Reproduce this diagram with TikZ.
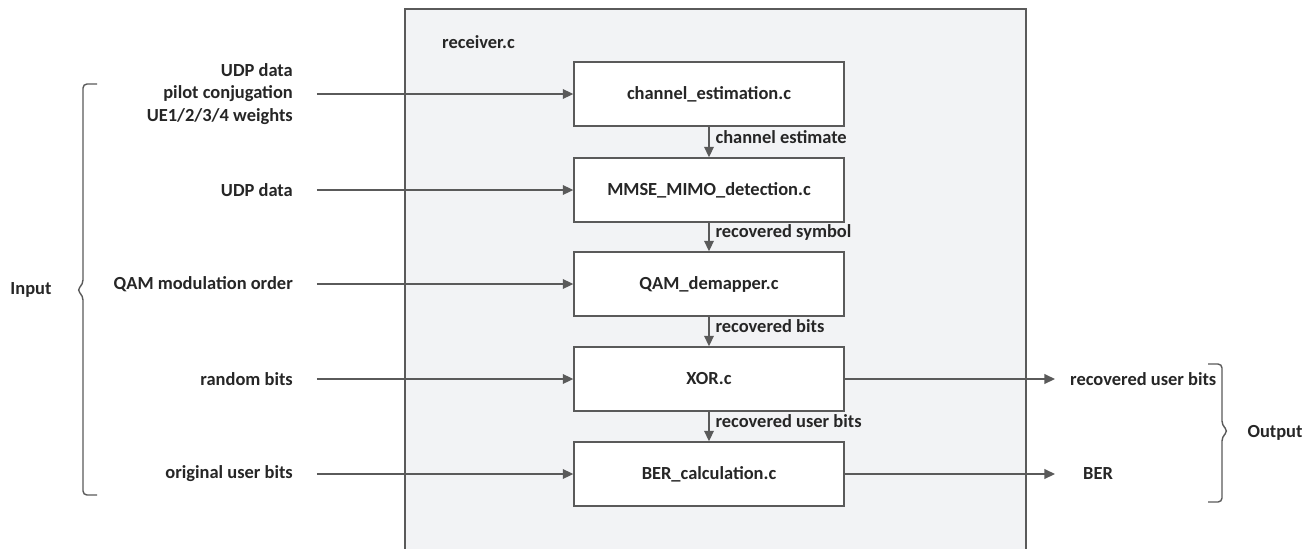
\documentclass[tikz,border=0pt]{standalone}
\usepackage{fontspec}
\setmainfont{Carlito}
\usetikzlibrary{arrows.meta}

\definecolor{linegray}{HTML}{5A5A5A}
\definecolor{textgray}{HTML}{262626}
\definecolor{boxbg}{HTML}{F2F3F5}

\tikzset{
  txt/.style={font=\fontsize{10.5pt}{12.6pt}\selectfont\bfseries, text=textgray},
  module/.style={txt, draw=linegray, fill=white, line width=0.8pt, minimum width=5.4cm, minimum height=1.28cm},
  flow/.style={draw=linegray, line width=0.8pt, -{Triangle[length=6pt,width=5.5pt]}},
  bracegray/.style={draw=linegray, line width=0.8pt, rounded corners=0.08cm}
}

\begin{document}
\begin{tikzpicture}[x=0.02cm, y=-0.02cm]
\useasboundingbox [fill=white] (0, 0) rectangle (1312, 548);

% receiver.c frame
\fill [boxbg] (405, 9) rectangle (1026, 560);
\draw [linegray, line width=0.8pt] (405, 560) -- (405, 9) -- (1026, 9) -- (1026, 560);
\node (recv) at (436, 42) [txt, anchor=west] {receiver.c};

% modules
\node (chest) at (709, 94) [module] {channel\_estimation.c};
\node (mmse) at (709, 190) [module] {MMSE\_MIMO\_detection.c};
\node (qam) at (709, 284) [module] {QAM\_demapper.c};
\node (xor) at (709, 379) [module] {XOR.c};
\node (ber) at (709, 474) [module] {BER\_calculation.c};

% inputs
\node (in1) at (299, 94) [txt, anchor=east, align=right] {UDP data\\pilot conjugation\\UE1/2/3/4 weights};
\node (in2) at (299, 190) [txt, anchor=east] {UDP data};
\node (in3) at (299, 284) [txt, anchor=east] {QAM modulation order};
\node (in4) at (299, 379) [txt, anchor=east] {random bits};
\node (in5) at (299, 474) [txt, anchor=east] {original user bits};
\node (input) at (31, 290) [txt] {Input};

% outputs
\node (out1) at (1064, 379) [txt, anchor=west] {recovered user bits};
\node (out2) at (1077, 474) [txt, anchor=west] {BER};
\node (output) at (1275, 433) [txt] {Output};

\draw [flow, shorten <=0.36cm] (in1.east) -- (chest.west);
\draw [flow, shorten <=0.36cm] (in2.east) -- (mmse.west);
\draw [flow, shorten <=0.36cm] (in3.east) -- (qam.west);
\draw [flow, shorten <=0.36cm] (in4.east) -- (xor.west);
\draw [flow, shorten <=0.36cm] (in5.east) -- (ber.west);

\draw [flow] (chest) -- node [txt, right, yshift=0.1cm] {channel estimate} (mmse);
\draw [flow] (mmse) -- node [txt, right, yshift=0.1cm] {recovered symbol} (qam);
\draw [flow] (qam) -- node [txt, right, yshift=0.1cm] {recovered bits} (xor);
\draw [flow] (xor) -- node [txt, right, yshift=0.1cm] {recovered user bits} (ber);

\draw [flow, shorten >=0.18cm] (xor.east) -- (out1.west);
\draw [flow, shorten >=0.44cm] (ber.east) -- (out2.west);

% braces
\draw [bracegray] (97, 84) -- (83, 84) -- (83, 284) -- (77, 290) -- (83, 296) -- (83, 495) -- (97, 495);
\draw [bracegray] (1208, 364) -- (1222, 364) -- (1222, 425) -- (1228, 431) -- (1222, 437) -- (1222, 502) -- (1208, 502);
\end{tikzpicture}
\end{document}
